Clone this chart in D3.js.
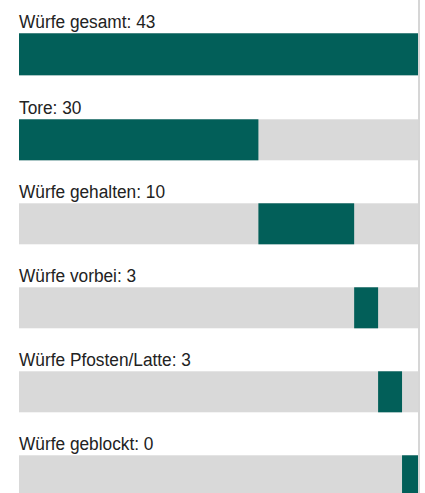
<!DOCTYPE html>
<html>
<head>
<meta charset="utf-8">
<script src="https://cdn.jsdelivr.net/npm/d3@7/dist/d3.min.js"></script>
<style>
html,body{margin:0;padding:0;background:#fff;overflow:hidden;}
svg{display:block;}
text{font-family:"Liberation Sans",Arial,sans-serif;fill:#222;}
</style>
</head>
<body>
<svg id="chart" width="425" height="493"></svg>
<script>
// Data
const categories = ["Würfe gesamt", "Tore", "Würfe gehalten", "Würfe vorbei", "Würfe Pfosten/Latte", "Würfe geblockt"];
const counts = [43, 30, 10, 3, 3, 0];
// highlighted segment length on the shared scale
const segmentLengths = [50, 30, 12, 3, 3, 2];
const scaleMax = 50;

const W = 425, H = 493;
const svg = d3.select("#chart");

const x = d3.scaleLinear().domain([0, scaleMax]).range([19, 418]);
const y = d3.scaleLinear().domain([0, 1]).range([35.3, 119.3]);
const barH = 41;

const starts = [];
let acc = 0;
categories.forEach((c, i) => {
  if (i === 0) { starts.push(0); }
  else { starts.push(acc); acc += segmentLengths[i]; }
});

const rows = categories.map((c, i) => ({cat: c, count: counts[i], start: starts[i], len: segmentLengths[i], i}));
const barTop = d => y(d.i) - (d.i === 0 ? 2 : 0);
const barHgt = d => barH + (d.i === 0 ? 1 : 0);

const g = svg.selectAll("g.row").data(rows).join("g").attr("class", "row");

g.append("rect")
  .attr("x", x(0))
  .attr("y", barTop)
  .attr("width", x(scaleMax) - x(0))
  .attr("height", barHgt)
  .attr("fill", "#d9d9d9");

g.append("rect")
  .attr("x", d => x(d.start))
  .attr("y", barTop)
  .attr("width", d => x(Math.min(scaleMax, d.start + d.len)) - x(d.start))
  .attr("height", barHgt)
  .attr("fill", "#025f59");

g.append("text")
  .attr("transform", d => `translate(${x(0)},${barTop(d) - 5.6}) scale(0.91,1)`)
  .attr("font-size", 19)
  .text(d => d.cat + ": " + d.count);

svg.append("line")
  .attr("x1", 419).attr("x2", 419)
  .attr("y1", 0).attr("y2", H)
  .attr("stroke", "#c8c8c8")
  .attr("stroke-width", 1.5);
</script>
</body>
</html>
